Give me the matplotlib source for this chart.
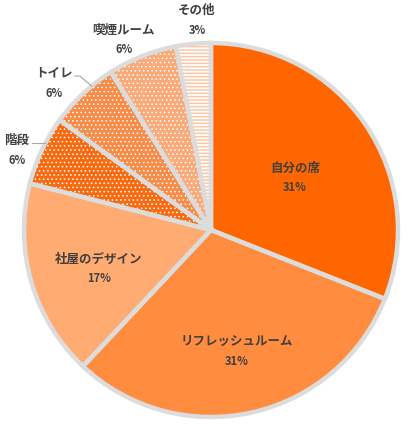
import numpy as np
import matplotlib
matplotlib.use("Agg")
import matplotlib.pyplot as plt

plt.rcParams['font.family'] = ['Noto Sans CJK JP', 'DejaVu Sans']

categories = ['自分の席', 'リフレッシュルーム', '社屋のデザイン', '階段', 'トイレ', '喫煙ルーム', 'その他']
values = [31, 31, 17, 6, 6, 6, 3]
pct_labels = ['31%', '31%', '17%', '6%', '6%', '6%', '3%']

colors = ['#FF6600', '#FF8C3F', '#FFAB72', '#F86A10', '#F68C48', '#F9AA78', '#FBC7A3']
hatches = [None, None, None, '....', '....', '....', '-----']
hatch_lw = [1.0, 1.0, 1.0, 0.6, 0.6, 0.6, 1.3]
label_dist = [0.528, 0.664, 0.634, 1.121, 1.150, 1.118, 1.123]
label_nudge = [-2.4, -0.5, 3.0, 2.9, 3.7, 3.0, -1.6]
leader = [False, False, False, True, True, False, False]
leader_drop = [0, 0, 0, 0, 10, 0, 0]

W, H = 408, 425
fig = plt.figure(figsize=(W / 100, H / 100), dpi=100)
ax = fig.add_axes([0, 0, 1, 1])

cx, cy, R = 211, 195, 187

wedges, _ = ax.pie(values, colors=colors, startangle=90, counterclock=False,
                   center=(cx, cy), radius=R,
                   wedgeprops=dict(linewidth=0, edgecolor='white'))
for w, h, lw in zip(wedges, hatches, hatch_lw):
    if h:
        w.set_hatch(h)
        if hasattr(w, 'set_hatch_linewidth'):
            w.set_hatch_linewidth(lw)

# outlines
ax.pie(values, colors=['none'] * len(values), startangle=90, counterclock=False,
       center=(cx, cy), radius=R,
       wedgeprops=dict(linewidth=3.2, edgecolor='#DCDCDC', fill=False))

for w, name, pct, d, nd, ld, drop in zip(wedges, categories, pct_labels, label_dist,
                                         label_nudge, leader, leader_drop):
    mid = np.deg2rad((w.theta1 + w.theta2) / 2)
    ang = mid + np.deg2rad(nd)
    lx = cx + R * d * np.cos(ang)
    ly = cy + R * d * np.sin(ang)
    ax.text(lx, ly + 10, name, ha='center', va='center', fontsize=9,
            fontweight='bold', color='#404040')
    ax.text(lx, ly - 10, pct, ha='center', va='center', fontsize=8,
            fontweight='bold', color='#404040')
    if ld:
        tx = lx + len(name) * 6.3 + 2
        y0 = ly + 10 - 3
        ey = y0 - drop
        ex = cx - np.sqrt(R ** 2 - (ey - cy) ** 2)
        ax.plot([tx, tx + 5, ex], [y0, y0, ey], color='#A6A6A6', lw=0.8)

ax.set_xlim(0, W)
ax.set_ylim(0, H)
ax.set_aspect('equal')
ax.axis('off')

fig.savefig('out.png', dpi=100, facecolor='white')
